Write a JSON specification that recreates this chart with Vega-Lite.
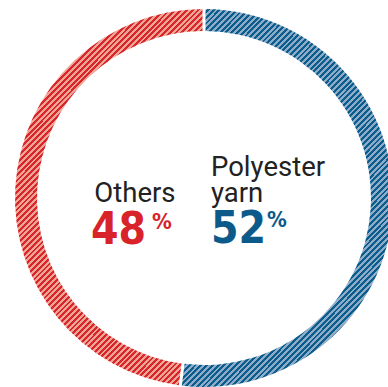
{
"$schema": "https://vega.github.io/schema/vega-lite/v6.json",
"width": 368,
"height": 378,
"autosize": {"type": "none"},
"padding": {"left": 20, "top": 9, "right": 0, "bottom": 0},
"background": "white",
"config": {"view": {"stroke": null}},
"data": {"values": [{"category": "Polyester yarn", "value": 52}, {"category": "Others", "value": 48}]},
"layer": [
{"mark": {"type": "arc", "outerRadius": 189, "innerRadius": 167, "padAngle": 0.012},
"encoding": {
"theta": {"field": "value", "type": "quantitative", "stack": true},
"detail": {"field": "category", "type": "nominal"},
"order": {"field": "category", "type": "nominal", "sort": "descending"},
"fill": {"condition": {"test": "datum.category === 'Others'", "value": {"gradient": "linear", "x1": 0.0872, "y1": 0.1744, "x2": 0.6015, "y2": 1.203, "stops": [
{"offset":0,"color":"#f0a494"},{"offset":0.006,"color":"#f0a494"},{"offset":0.006,"color":"#d9262d"},{"offset":0.012,"color":"#d9262d"},
{"offset":0.012,"color":"#f0a494"},{"offset":0.018,"color":"#f0a494"},{"offset":0.018,"color":"#d9262d"},{"offset":0.024,"color":"#d9262d"},
{"offset":0.024,"color":"#f0a494"},{"offset":0.03,"color":"#f0a494"},{"offset":0.03,"color":"#d9262d"},{"offset":0.036,"color":"#d9262d"},
{"offset":0.036,"color":"#f0a494"},{"offset":0.042,"color":"#f0a494"},{"offset":0.042,"color":"#d9262d"},{"offset":0.048,"color":"#d9262d"},
{"offset":0.048,"color":"#f0a494"},{"offset":0.054,"color":"#f0a494"},{"offset":0.054,"color":"#d9262d"},{"offset":0.06,"color":"#d9262d"},
{"offset":0.06,"color":"#f0a494"},{"offset":0.066,"color":"#f0a494"},{"offset":0.066,"color":"#d9262d"},{"offset":0.072,"color":"#d9262d"},
{"offset":0.072,"color":"#f0a494"},{"offset":0.078,"color":"#f0a494"},{"offset":0.078,"color":"#d9262d"},{"offset":0.084,"color":"#d9262d"},
{"offset":0.084,"color":"#f0a494"},{"offset":0.09,"color":"#f0a494"},{"offset":0.09,"color":"#d9262d"},{"offset":0.096,"color":"#d9262d"},
{"offset":0.096,"color":"#f0a494"},{"offset":0.102,"color":"#f0a494"},{"offset":0.102,"color":"#d9262d"},{"offset":0.108,"color":"#d9262d"},
{"offset":0.108,"color":"#f0a494"},{"offset":0.114,"color":"#f0a494"},{"offset":0.114,"color":"#d9262d"},{"offset":0.12,"color":"#d9262d"},
{"offset":0.12,"color":"#f0a494"},{"offset":0.126,"color":"#f0a494"},{"offset":0.126,"color":"#d9262d"},{"offset":0.132,"color":"#d9262d"},
{"offset":0.132,"color":"#f0a494"},{"offset":0.138,"color":"#f0a494"},{"offset":0.138,"color":"#d9262d"},{"offset":0.144,"color":"#d9262d"},
{"offset":0.144,"color":"#f0a494"},{"offset":0.15,"color":"#f0a494"},{"offset":0.15,"color":"#d9262d"},{"offset":0.156,"color":"#d9262d"},
{"offset":0.156,"color":"#f0a494"},{"offset":0.162,"color":"#f0a494"},{"offset":0.162,"color":"#d9262d"},{"offset":0.168,"color":"#d9262d"},
{"offset":0.168,"color":"#f0a494"},{"offset":0.174,"color":"#f0a494"},{"offset":0.174,"color":"#d9262d"},{"offset":0.18,"color":"#d9262d"},
{"offset":0.18,"color":"#f0a494"},{"offset":0.186,"color":"#f0a494"},{"offset":0.186,"color":"#d9262d"},{"offset":0.192,"color":"#d9262d"},
{"offset":0.192,"color":"#f0a494"},{"offset":0.198,"color":"#f0a494"},{"offset":0.198,"color":"#d9262d"},{"offset":0.204,"color":"#d9262d"},
{"offset":0.204,"color":"#f0a494"},{"offset":0.21,"color":"#f0a494"},{"offset":0.21,"color":"#d9262d"},{"offset":0.216,"color":"#d9262d"},
{"offset":0.216,"color":"#f0a494"},{"offset":0.222,"color":"#f0a494"},{"offset":0.222,"color":"#d9262d"},{"offset":0.228,"color":"#d9262d"},
{"offset":0.228,"color":"#f0a494"},{"offset":0.234,"color":"#f0a494"},{"offset":0.234,"color":"#d9262d"},{"offset":0.24,"color":"#d9262d"},
{"offset":0.24,"color":"#f0a494"},{"offset":0.246,"color":"#f0a494"},{"offset":0.246,"color":"#d9262d"},{"offset":0.252,"color":"#d9262d"},
{"offset":0.252,"color":"#f0a494"},{"offset":0.258,"color":"#f0a494"},{"offset":0.258,"color":"#d9262d"},{"offset":0.264,"color":"#d9262d"},
{"offset":0.264,"color":"#f0a494"},{"offset":0.27,"color":"#f0a494"},{"offset":0.27,"color":"#d9262d"},{"offset":0.276,"color":"#d9262d"},
{"offset":0.276,"color":"#f0a494"},{"offset":0.282,"color":"#f0a494"},{"offset":0.282,"color":"#d9262d"},{"offset":0.288,"color":"#d9262d"},
{"offset":0.288,"color":"#f0a494"},{"offset":0.294,"color":"#f0a494"},{"offset":0.294,"color":"#d9262d"},{"offset":0.3,"color":"#d9262d"},
{"offset":0.3,"color":"#f0a494"},{"offset":0.306,"color":"#f0a494"},{"offset":0.306,"color":"#d9262d"},{"offset":0.312,"color":"#d9262d"},
{"offset":0.312,"color":"#f0a494"},{"offset":0.318,"color":"#f0a494"},{"offset":0.318,"color":"#d9262d"},{"offset":0.324,"color":"#d9262d"},
{"offset":0.324,"color":"#f0a494"},{"offset":0.33,"color":"#f0a494"},{"offset":0.33,"color":"#d9262d"},{"offset":0.336,"color":"#d9262d"},
{"offset":0.336,"color":"#f0a494"},{"offset":0.342,"color":"#f0a494"},{"offset":0.342,"color":"#d9262d"},{"offset":0.348,"color":"#d9262d"},
{"offset":0.348,"color":"#f0a494"},{"offset":0.354,"color":"#f0a494"},{"offset":0.354,"color":"#d9262d"},{"offset":0.36,"color":"#d9262d"},
{"offset":0.36,"color":"#f0a494"},{"offset":0.366,"color":"#f0a494"},{"offset":0.366,"color":"#d9262d"},{"offset":0.372,"color":"#d9262d"},
{"offset":0.372,"color":"#f0a494"},{"offset":0.378,"color":"#f0a494"},{"offset":0.378,"color":"#d9262d"},{"offset":0.384,"color":"#d9262d"},
{"offset":0.384,"color":"#f0a494"},{"offset":0.39,"color":"#f0a494"},{"offset":0.39,"color":"#d9262d"},{"offset":0.396,"color":"#d9262d"},
{"offset":0.396,"color":"#f0a494"},{"offset":0.402,"color":"#f0a494"},{"offset":0.402,"color":"#d9262d"},{"offset":0.408,"color":"#d9262d"},
{"offset":0.408,"color":"#f0a494"},{"offset":0.414,"color":"#f0a494"},{"offset":0.414,"color":"#d9262d"},{"offset":0.42,"color":"#d9262d"},
{"offset":0.42,"color":"#f0a494"},{"offset":0.426,"color":"#f0a494"},{"offset":0.426,"color":"#d9262d"},{"offset":0.432,"color":"#d9262d"},
{"offset":0.432,"color":"#f0a494"},{"offset":0.438,"color":"#f0a494"},{"offset":0.438,"color":"#d9262d"},{"offset":0.444,"color":"#d9262d"},
{"offset":0.444,"color":"#f0a494"},{"offset":0.45,"color":"#f0a494"},{"offset":0.45,"color":"#d9262d"},{"offset":0.456,"color":"#d9262d"},
{"offset":0.456,"color":"#f0a494"},{"offset":0.462,"color":"#f0a494"},{"offset":0.462,"color":"#d9262d"},{"offset":0.468,"color":"#d9262d"},
{"offset":0.468,"color":"#f0a494"},{"offset":0.474,"color":"#f0a494"},{"offset":0.474,"color":"#d9262d"},{"offset":0.48,"color":"#d9262d"},
{"offset":0.48,"color":"#f0a494"},{"offset":0.486,"color":"#f0a494"},{"offset":0.486,"color":"#d9262d"},{"offset":0.492,"color":"#d9262d"},
{"offset":0.492,"color":"#f0a494"},{"offset":0.498,"color":"#f0a494"},{"offset":0.498,"color":"#d9262d"},{"offset":0.504,"color":"#d9262d"},
{"offset":0.504,"color":"#f0a494"},{"offset":0.51,"color":"#f0a494"},{"offset":0.51,"color":"#d9262d"},{"offset":0.516,"color":"#d9262d"},
{"offset":0.516,"color":"#f0a494"},{"offset":0.522,"color":"#f0a494"},{"offset":0.522,"color":"#d9262d"},{"offset":0.528,"color":"#d9262d"},
{"offset":0.528,"color":"#f0a494"},{"offset":0.534,"color":"#f0a494"},{"offset":0.534,"color":"#d9262d"},{"offset":0.54,"color":"#d9262d"},
{"offset":0.54,"color":"#f0a494"},{"offset":0.546,"color":"#f0a494"},{"offset":0.546,"color":"#d9262d"},{"offset":0.552,"color":"#d9262d"},
{"offset":0.552,"color":"#f0a494"},{"offset":0.558,"color":"#f0a494"},{"offset":0.558,"color":"#d9262d"},{"offset":0.564,"color":"#d9262d"},
{"offset":0.564,"color":"#f0a494"},{"offset":0.57,"color":"#f0a494"},{"offset":0.57,"color":"#d9262d"},{"offset":0.576,"color":"#d9262d"},
{"offset":0.576,"color":"#f0a494"},{"offset":0.582,"color":"#f0a494"},{"offset":0.582,"color":"#d9262d"},{"offset":0.588,"color":"#d9262d"},
{"offset":0.588,"color":"#f0a494"},{"offset":0.594,"color":"#f0a494"},{"offset":0.594,"color":"#d9262d"},{"offset":0.6,"color":"#d9262d"},
{"offset":0.6,"color":"#f0a494"},{"offset":0.606,"color":"#f0a494"},{"offset":0.606,"color":"#d9262d"},{"offset":0.612,"color":"#d9262d"},
{"offset":0.612,"color":"#f0a494"},{"offset":0.618,"color":"#f0a494"},{"offset":0.618,"color":"#d9262d"},{"offset":0.624,"color":"#d9262d"},
{"offset":0.624,"color":"#f0a494"},{"offset":0.63,"color":"#f0a494"},{"offset":0.63,"color":"#d9262d"},{"offset":0.636,"color":"#d9262d"},
{"offset":0.636,"color":"#f0a494"},{"offset":0.642,"color":"#f0a494"},{"offset":0.642,"color":"#d9262d"},{"offset":0.648,"color":"#d9262d"},
{"offset":0.648,"color":"#f0a494"},{"offset":0.654,"color":"#f0a494"},{"offset":0.654,"color":"#d9262d"},{"offset":0.66,"color":"#d9262d"},
{"offset":0.66,"color":"#f0a494"},{"offset":0.666,"color":"#f0a494"},{"offset":0.666,"color":"#d9262d"},{"offset":0.672,"color":"#d9262d"},
{"offset":0.672,"color":"#f0a494"},{"offset":0.678,"color":"#f0a494"},{"offset":0.678,"color":"#d9262d"},{"offset":0.684,"color":"#d9262d"},
{"offset":0.684,"color":"#f0a494"},{"offset":0.69,"color":"#f0a494"},{"offset":0.69,"color":"#d9262d"},{"offset":0.696,"color":"#d9262d"},
{"offset":0.696,"color":"#f0a494"},{"offset":0.702,"color":"#f0a494"},{"offset":0.702,"color":"#d9262d"},{"offset":0.708,"color":"#d9262d"},
{"offset":0.708,"color":"#f0a494"},{"offset":0.714,"color":"#f0a494"},{"offset":0.714,"color":"#d9262d"},{"offset":0.72,"color":"#d9262d"},
{"offset":0.72,"color":"#f0a494"},{"offset":0.726,"color":"#f0a494"},{"offset":0.726,"color":"#d9262d"},{"offset":0.732,"color":"#d9262d"},
{"offset":0.732,"color":"#f0a494"},{"offset":0.738,"color":"#f0a494"},{"offset":0.738,"color":"#d9262d"},{"offset":0.744,"color":"#d9262d"},
{"offset":0.744,"color":"#f0a494"},{"offset":0.75,"color":"#f0a494"},{"offset":0.75,"color":"#d9262d"},{"offset":0.756,"color":"#d9262d"},
{"offset":0.756,"color":"#f0a494"},{"offset":0.762,"color":"#f0a494"},{"offset":0.762,"color":"#d9262d"},{"offset":0.768,"color":"#d9262d"},
{"offset":0.768,"color":"#f0a494"},{"offset":0.774,"color":"#f0a494"},{"offset":0.774,"color":"#d9262d"},{"offset":0.78,"color":"#d9262d"},
{"offset":0.78,"color":"#f0a494"},{"offset":0.786,"color":"#f0a494"},{"offset":0.786,"color":"#d9262d"},{"offset":0.792,"color":"#d9262d"},
{"offset":0.792,"color":"#f0a494"},{"offset":0.798,"color":"#f0a494"},{"offset":0.798,"color":"#d9262d"},{"offset":0.804,"color":"#d9262d"},
{"offset":0.804,"color":"#f0a494"},{"offset":0.81,"color":"#f0a494"},{"offset":0.81,"color":"#d9262d"},{"offset":0.816,"color":"#d9262d"},
{"offset":0.816,"color":"#f0a494"},{"offset":0.822,"color":"#f0a494"},{"offset":0.822,"color":"#d9262d"},{"offset":0.828,"color":"#d9262d"},
{"offset":0.828,"color":"#f0a494"},{"offset":0.834,"color":"#f0a494"},{"offset":0.834,"color":"#d9262d"},{"offset":0.84,"color":"#d9262d"},
{"offset":0.84,"color":"#f0a494"},{"offset":0.846,"color":"#f0a494"},{"offset":0.846,"color":"#d9262d"},{"offset":0.852,"color":"#d9262d"},
{"offset":0.852,"color":"#f0a494"},{"offset":0.858,"color":"#f0a494"},{"offset":0.858,"color":"#d9262d"},{"offset":0.864,"color":"#d9262d"},
{"offset":0.864,"color":"#f0a494"},{"offset":0.87,"color":"#f0a494"},{"offset":0.87,"color":"#d9262d"},{"offset":0.876,"color":"#d9262d"},
{"offset":0.876,"color":"#f0a494"},{"offset":0.882,"color":"#f0a494"},{"offset":0.882,"color":"#d9262d"},{"offset":0.888,"color":"#d9262d"},
{"offset":0.888,"color":"#f0a494"},{"offset":0.894,"color":"#f0a494"},{"offset":0.894,"color":"#d9262d"},{"offset":0.9,"color":"#d9262d"},
{"offset":0.9,"color":"#f0a494"},{"offset":0.906,"color":"#f0a494"},{"offset":0.906,"color":"#d9262d"},{"offset":0.912,"color":"#d9262d"},
{"offset":0.912,"color":"#f0a494"},{"offset":0.918,"color":"#f0a494"},{"offset":0.918,"color":"#d9262d"},{"offset":0.924,"color":"#d9262d"},
{"offset":0.924,"color":"#f0a494"},{"offset":0.93,"color":"#f0a494"},{"offset":0.93,"color":"#d9262d"},{"offset":0.936,"color":"#d9262d"},
{"offset":0.936,"color":"#f0a494"},{"offset":0.942,"color":"#f0a494"},{"offset":0.942,"color":"#d9262d"},{"offset":0.948,"color":"#d9262d"},
{"offset":0.948,"color":"#f0a494"},{"offset":0.954,"color":"#f0a494"},{"offset":0.954,"color":"#d9262d"},{"offset":0.96,"color":"#d9262d"},
{"offset":0.96,"color":"#f0a494"},{"offset":0.966,"color":"#f0a494"},{"offset":0.966,"color":"#d9262d"},{"offset":0.972,"color":"#d9262d"},
{"offset":0.972,"color":"#f0a494"},{"offset":0.978,"color":"#f0a494"},{"offset":0.978,"color":"#d9262d"},{"offset":0.984,"color":"#d9262d"},
{"offset":0.984,"color":"#f0a494"},{"offset":0.99,"color":"#f0a494"},{"offset":0.99,"color":"#d9262d"},{"offset":0.996,"color":"#d9262d"}
]}},
"value": {"gradient": "linear", "x1": 0.0128, "y1": 0.0227, "x2": 0.56, "y2": 0.9946, "stops": [
{"offset":0,"color":"#8eabc8"},{"offset":0.006,"color":"#8eabc8"},{"offset":0.006,"color":"#0a5d8c"},{"offset":0.012,"color":"#0a5d8c"},
{"offset":0.012,"color":"#8eabc8"},{"offset":0.018,"color":"#8eabc8"},{"offset":0.018,"color":"#0a5d8c"},{"offset":0.024,"color":"#0a5d8c"},
{"offset":0.024,"color":"#8eabc8"},{"offset":0.03,"color":"#8eabc8"},{"offset":0.03,"color":"#0a5d8c"},{"offset":0.036,"color":"#0a5d8c"},
{"offset":0.036,"color":"#8eabc8"},{"offset":0.042,"color":"#8eabc8"},{"offset":0.042,"color":"#0a5d8c"},{"offset":0.048,"color":"#0a5d8c"},
{"offset":0.048,"color":"#8eabc8"},{"offset":0.054,"color":"#8eabc8"},{"offset":0.054,"color":"#0a5d8c"},{"offset":0.06,"color":"#0a5d8c"},
{"offset":0.06,"color":"#8eabc8"},{"offset":0.066,"color":"#8eabc8"},{"offset":0.066,"color":"#0a5d8c"},{"offset":0.072,"color":"#0a5d8c"},
{"offset":0.072,"color":"#8eabc8"},{"offset":0.078,"color":"#8eabc8"},{"offset":0.078,"color":"#0a5d8c"},{"offset":0.084,"color":"#0a5d8c"},
{"offset":0.084,"color":"#8eabc8"},{"offset":0.09,"color":"#8eabc8"},{"offset":0.09,"color":"#0a5d8c"},{"offset":0.096,"color":"#0a5d8c"},
{"offset":0.096,"color":"#8eabc8"},{"offset":0.102,"color":"#8eabc8"},{"offset":0.102,"color":"#0a5d8c"},{"offset":0.108,"color":"#0a5d8c"},
{"offset":0.108,"color":"#8eabc8"},{"offset":0.114,"color":"#8eabc8"},{"offset":0.114,"color":"#0a5d8c"},{"offset":0.12,"color":"#0a5d8c"},
{"offset":0.12,"color":"#8eabc8"},{"offset":0.126,"color":"#8eabc8"},{"offset":0.126,"color":"#0a5d8c"},{"offset":0.132,"color":"#0a5d8c"},
{"offset":0.132,"color":"#8eabc8"},{"offset":0.138,"color":"#8eabc8"},{"offset":0.138,"color":"#0a5d8c"},{"offset":0.144,"color":"#0a5d8c"},
{"offset":0.144,"color":"#8eabc8"},{"offset":0.15,"color":"#8eabc8"},{"offset":0.15,"color":"#0a5d8c"},{"offset":0.156,"color":"#0a5d8c"},
{"offset":0.156,"color":"#8eabc8"},{"offset":0.162,"color":"#8eabc8"},{"offset":0.162,"color":"#0a5d8c"},{"offset":0.168,"color":"#0a5d8c"},
{"offset":0.168,"color":"#8eabc8"},{"offset":0.174,"color":"#8eabc8"},{"offset":0.174,"color":"#0a5d8c"},{"offset":0.18,"color":"#0a5d8c"},
{"offset":0.18,"color":"#8eabc8"},{"offset":0.186,"color":"#8eabc8"},{"offset":0.186,"color":"#0a5d8c"},{"offset":0.192,"color":"#0a5d8c"},
{"offset":0.192,"color":"#8eabc8"},{"offset":0.198,"color":"#8eabc8"},{"offset":0.198,"color":"#0a5d8c"},{"offset":0.204,"color":"#0a5d8c"},
{"offset":0.204,"color":"#8eabc8"},{"offset":0.21,"color":"#8eabc8"},{"offset":0.21,"color":"#0a5d8c"},{"offset":0.216,"color":"#0a5d8c"},
{"offset":0.216,"color":"#8eabc8"},{"offset":0.222,"color":"#8eabc8"},{"offset":0.222,"color":"#0a5d8c"},{"offset":0.228,"color":"#0a5d8c"},
{"offset":0.228,"color":"#8eabc8"},{"offset":0.234,"color":"#8eabc8"},{"offset":0.234,"color":"#0a5d8c"},{"offset":0.24,"color":"#0a5d8c"},
{"offset":0.24,"color":"#8eabc8"},{"offset":0.246,"color":"#8eabc8"},{"offset":0.246,"color":"#0a5d8c"},{"offset":0.252,"color":"#0a5d8c"},
{"offset":0.252,"color":"#8eabc8"},{"offset":0.258,"color":"#8eabc8"},{"offset":0.258,"color":"#0a5d8c"},{"offset":0.264,"color":"#0a5d8c"},
{"offset":0.264,"color":"#8eabc8"},{"offset":0.27,"color":"#8eabc8"},{"offset":0.27,"color":"#0a5d8c"},{"offset":0.276,"color":"#0a5d8c"},
{"offset":0.276,"color":"#8eabc8"},{"offset":0.282,"color":"#8eabc8"},{"offset":0.282,"color":"#0a5d8c"},{"offset":0.288,"color":"#0a5d8c"},
{"offset":0.288,"color":"#8eabc8"},{"offset":0.294,"color":"#8eabc8"},{"offset":0.294,"color":"#0a5d8c"},{"offset":0.3,"color":"#0a5d8c"},
{"offset":0.3,"color":"#8eabc8"},{"offset":0.306,"color":"#8eabc8"},{"offset":0.306,"color":"#0a5d8c"},{"offset":0.312,"color":"#0a5d8c"},
{"offset":0.312,"color":"#8eabc8"},{"offset":0.318,"color":"#8eabc8"},{"offset":0.318,"color":"#0a5d8c"},{"offset":0.324,"color":"#0a5d8c"},
{"offset":0.324,"color":"#8eabc8"},{"offset":0.33,"color":"#8eabc8"},{"offset":0.33,"color":"#0a5d8c"},{"offset":0.336,"color":"#0a5d8c"},
{"offset":0.336,"color":"#8eabc8"},{"offset":0.342,"color":"#8eabc8"},{"offset":0.342,"color":"#0a5d8c"},{"offset":0.348,"color":"#0a5d8c"},
{"offset":0.348,"color":"#8eabc8"},{"offset":0.354,"color":"#8eabc8"},{"offset":0.354,"color":"#0a5d8c"},{"offset":0.36,"color":"#0a5d8c"},
{"offset":0.36,"color":"#8eabc8"},{"offset":0.366,"color":"#8eabc8"},{"offset":0.366,"color":"#0a5d8c"},{"offset":0.372,"color":"#0a5d8c"},
{"offset":0.372,"color":"#8eabc8"},{"offset":0.378,"color":"#8eabc8"},{"offset":0.378,"color":"#0a5d8c"},{"offset":0.384,"color":"#0a5d8c"},
{"offset":0.384,"color":"#8eabc8"},{"offset":0.39,"color":"#8eabc8"},{"offset":0.39,"color":"#0a5d8c"},{"offset":0.396,"color":"#0a5d8c"},
{"offset":0.396,"color":"#8eabc8"},{"offset":0.402,"color":"#8eabc8"},{"offset":0.402,"color":"#0a5d8c"},{"offset":0.408,"color":"#0a5d8c"},
{"offset":0.408,"color":"#8eabc8"},{"offset":0.414,"color":"#8eabc8"},{"offset":0.414,"color":"#0a5d8c"},{"offset":0.42,"color":"#0a5d8c"},
{"offset":0.42,"color":"#8eabc8"},{"offset":0.426,"color":"#8eabc8"},{"offset":0.426,"color":"#0a5d8c"},{"offset":0.432,"color":"#0a5d8c"},
{"offset":0.432,"color":"#8eabc8"},{"offset":0.438,"color":"#8eabc8"},{"offset":0.438,"color":"#0a5d8c"},{"offset":0.444,"color":"#0a5d8c"},
{"offset":0.444,"color":"#8eabc8"},{"offset":0.45,"color":"#8eabc8"},{"offset":0.45,"color":"#0a5d8c"},{"offset":0.456,"color":"#0a5d8c"},
{"offset":0.456,"color":"#8eabc8"},{"offset":0.462,"color":"#8eabc8"},{"offset":0.462,"color":"#0a5d8c"},{"offset":0.468,"color":"#0a5d8c"},
{"offset":0.468,"color":"#8eabc8"},{"offset":0.474,"color":"#8eabc8"},{"offset":0.474,"color":"#0a5d8c"},{"offset":0.48,"color":"#0a5d8c"},
{"offset":0.48,"color":"#8eabc8"},{"offset":0.486,"color":"#8eabc8"},{"offset":0.486,"color":"#0a5d8c"},{"offset":0.492,"color":"#0a5d8c"},
{"offset":0.492,"color":"#8eabc8"},{"offset":0.498,"color":"#8eabc8"},{"offset":0.498,"color":"#0a5d8c"},{"offset":0.504,"color":"#0a5d8c"},
{"offset":0.504,"color":"#8eabc8"},{"offset":0.51,"color":"#8eabc8"},{"offset":0.51,"color":"#0a5d8c"},{"offset":0.516,"color":"#0a5d8c"},
{"offset":0.516,"color":"#8eabc8"},{"offset":0.522,"color":"#8eabc8"},{"offset":0.522,"color":"#0a5d8c"},{"offset":0.528,"color":"#0a5d8c"},
{"offset":0.528,"color":"#8eabc8"},{"offset":0.534,"color":"#8eabc8"},{"offset":0.534,"color":"#0a5d8c"},{"offset":0.54,"color":"#0a5d8c"},
{"offset":0.54,"color":"#8eabc8"},{"offset":0.546,"color":"#8eabc8"},{"offset":0.546,"color":"#0a5d8c"},{"offset":0.552,"color":"#0a5d8c"},
{"offset":0.552,"color":"#8eabc8"},{"offset":0.558,"color":"#8eabc8"},{"offset":0.558,"color":"#0a5d8c"},{"offset":0.564,"color":"#0a5d8c"},
{"offset":0.564,"color":"#8eabc8"},{"offset":0.57,"color":"#8eabc8"},{"offset":0.57,"color":"#0a5d8c"},{"offset":0.576,"color":"#0a5d8c"},
{"offset":0.576,"color":"#8eabc8"},{"offset":0.582,"color":"#8eabc8"},{"offset":0.582,"color":"#0a5d8c"},{"offset":0.588,"color":"#0a5d8c"},
{"offset":0.588,"color":"#8eabc8"},{"offset":0.594,"color":"#8eabc8"},{"offset":0.594,"color":"#0a5d8c"},{"offset":0.6,"color":"#0a5d8c"},
{"offset":0.6,"color":"#8eabc8"},{"offset":0.606,"color":"#8eabc8"},{"offset":0.606,"color":"#0a5d8c"},{"offset":0.612,"color":"#0a5d8c"},
{"offset":0.612,"color":"#8eabc8"},{"offset":0.618,"color":"#8eabc8"},{"offset":0.618,"color":"#0a5d8c"},{"offset":0.624,"color":"#0a5d8c"},
{"offset":0.624,"color":"#8eabc8"},{"offset":0.63,"color":"#8eabc8"},{"offset":0.63,"color":"#0a5d8c"},{"offset":0.636,"color":"#0a5d8c"},
{"offset":0.636,"color":"#8eabc8"},{"offset":0.642,"color":"#8eabc8"},{"offset":0.642,"color":"#0a5d8c"},{"offset":0.648,"color":"#0a5d8c"},
{"offset":0.648,"color":"#8eabc8"},{"offset":0.654,"color":"#8eabc8"},{"offset":0.654,"color":"#0a5d8c"},{"offset":0.66,"color":"#0a5d8c"},
{"offset":0.66,"color":"#8eabc8"},{"offset":0.666,"color":"#8eabc8"},{"offset":0.666,"color":"#0a5d8c"},{"offset":0.672,"color":"#0a5d8c"},
{"offset":0.672,"color":"#8eabc8"},{"offset":0.678,"color":"#8eabc8"},{"offset":0.678,"color":"#0a5d8c"},{"offset":0.684,"color":"#0a5d8c"},
{"offset":0.684,"color":"#8eabc8"},{"offset":0.69,"color":"#8eabc8"},{"offset":0.69,"color":"#0a5d8c"},{"offset":0.696,"color":"#0a5d8c"},
{"offset":0.696,"color":"#8eabc8"},{"offset":0.702,"color":"#8eabc8"},{"offset":0.702,"color":"#0a5d8c"},{"offset":0.708,"color":"#0a5d8c"},
{"offset":0.708,"color":"#8eabc8"},{"offset":0.714,"color":"#8eabc8"},{"offset":0.714,"color":"#0a5d8c"},{"offset":0.72,"color":"#0a5d8c"},
{"offset":0.72,"color":"#8eabc8"},{"offset":0.726,"color":"#8eabc8"},{"offset":0.726,"color":"#0a5d8c"},{"offset":0.732,"color":"#0a5d8c"},
{"offset":0.732,"color":"#8eabc8"},{"offset":0.738,"color":"#8eabc8"},{"offset":0.738,"color":"#0a5d8c"},{"offset":0.744,"color":"#0a5d8c"},
{"offset":0.744,"color":"#8eabc8"},{"offset":0.75,"color":"#8eabc8"},{"offset":0.75,"color":"#0a5d8c"},{"offset":0.756,"color":"#0a5d8c"},
{"offset":0.756,"color":"#8eabc8"},{"offset":0.762,"color":"#8eabc8"},{"offset":0.762,"color":"#0a5d8c"},{"offset":0.768,"color":"#0a5d8c"},
{"offset":0.768,"color":"#8eabc8"},{"offset":0.774,"color":"#8eabc8"},{"offset":0.774,"color":"#0a5d8c"},{"offset":0.78,"color":"#0a5d8c"},
{"offset":0.78,"color":"#8eabc8"},{"offset":0.786,"color":"#8eabc8"},{"offset":0.786,"color":"#0a5d8c"},{"offset":0.792,"color":"#0a5d8c"},
{"offset":0.792,"color":"#8eabc8"},{"offset":0.798,"color":"#8eabc8"},{"offset":0.798,"color":"#0a5d8c"},{"offset":0.804,"color":"#0a5d8c"},
{"offset":0.804,"color":"#8eabc8"},{"offset":0.81,"color":"#8eabc8"},{"offset":0.81,"color":"#0a5d8c"},{"offset":0.816,"color":"#0a5d8c"},
{"offset":0.816,"color":"#8eabc8"},{"offset":0.822,"color":"#8eabc8"},{"offset":0.822,"color":"#0a5d8c"},{"offset":0.828,"color":"#0a5d8c"},
{"offset":0.828,"color":"#8eabc8"},{"offset":0.834,"color":"#8eabc8"},{"offset":0.834,"color":"#0a5d8c"},{"offset":0.84,"color":"#0a5d8c"},
{"offset":0.84,"color":"#8eabc8"},{"offset":0.846,"color":"#8eabc8"},{"offset":0.846,"color":"#0a5d8c"},{"offset":0.852,"color":"#0a5d8c"},
{"offset":0.852,"color":"#8eabc8"},{"offset":0.858,"color":"#8eabc8"},{"offset":0.858,"color":"#0a5d8c"},{"offset":0.864,"color":"#0a5d8c"},
{"offset":0.864,"color":"#8eabc8"},{"offset":0.87,"color":"#8eabc8"},{"offset":0.87,"color":"#0a5d8c"},{"offset":0.876,"color":"#0a5d8c"},
{"offset":0.876,"color":"#8eabc8"},{"offset":0.882,"color":"#8eabc8"},{"offset":0.882,"color":"#0a5d8c"},{"offset":0.888,"color":"#0a5d8c"},
{"offset":0.888,"color":"#8eabc8"},{"offset":0.894,"color":"#8eabc8"},{"offset":0.894,"color":"#0a5d8c"},{"offset":0.9,"color":"#0a5d8c"},
{"offset":0.9,"color":"#8eabc8"},{"offset":0.906,"color":"#8eabc8"},{"offset":0.906,"color":"#0a5d8c"},{"offset":0.912,"color":"#0a5d8c"},
{"offset":0.912,"color":"#8eabc8"},{"offset":0.918,"color":"#8eabc8"},{"offset":0.918,"color":"#0a5d8c"},{"offset":0.924,"color":"#0a5d8c"},
{"offset":0.924,"color":"#8eabc8"},{"offset":0.93,"color":"#8eabc8"},{"offset":0.93,"color":"#0a5d8c"},{"offset":0.936,"color":"#0a5d8c"},
{"offset":0.936,"color":"#8eabc8"},{"offset":0.942,"color":"#8eabc8"},{"offset":0.942,"color":"#0a5d8c"},{"offset":0.948,"color":"#0a5d8c"},
{"offset":0.948,"color":"#8eabc8"},{"offset":0.954,"color":"#8eabc8"},{"offset":0.954,"color":"#0a5d8c"},{"offset":0.96,"color":"#0a5d8c"},
{"offset":0.96,"color":"#8eabc8"},{"offset":0.966,"color":"#8eabc8"},{"offset":0.966,"color":"#0a5d8c"},{"offset":0.972,"color":"#0a5d8c"},
{"offset":0.972,"color":"#8eabc8"},{"offset":0.978,"color":"#8eabc8"},{"offset":0.978,"color":"#0a5d8c"},{"offset":0.984,"color":"#0a5d8c"},
{"offset":0.984,"color":"#8eabc8"},{"offset":0.99,"color":"#8eabc8"},{"offset":0.99,"color":"#0a5d8c"},{"offset":0.996,"color":"#0a5d8c"}
]}}
}},
{"transform": [{"filter": "datum.category === 'Others'"}],
"mark": {"type": "text", "align": "right", "baseline": "alphabetic", "dx": -28.5, "dy": 4, "font": "Roboto", "fontSize": 27.5, "color": "#222222"},
"encoding": {"text": {"field": "category", "type": "nominal"}}},
{"transform": [{"filter": "datum.category === 'Others'"}],
"mark": {"type": "text", "align": "right", "baseline": "alphabetic", "dx": -58, "dy": 46, "font": "DejaVu Sans Condensed, DejaVu Sans", "fontSize": 44, "fontWeight": "bold", "color": "#d8232a"},
"encoding": {"text": {"field": "value", "type": "quantitative"}}},
{"transform": [{"filter": "datum.category === 'Others'"}],
"mark": {"type": "text", "align": "left", "baseline": "alphabetic", "dx": -52, "dy": 31, "font": "DejaVu Sans Condensed, DejaVu Sans", "fontSize": 22, "fontWeight": "bold", "color": "#d8232a"},
"encoding": {"text": {"value": "%"}}},
{"transform": [{"filter": "datum.category === 'Polyester yarn'"}],
"mark": {"type": "text", "align": "left", "baseline": "alphabetic", "dx": 7, "dy": -22, "lineBreak": " ", "lineHeight": 26, "font": "Roboto", "fontSize": 27.5, "color": "#222222"},
"encoding": {"text": {"field": "category", "type": "nominal"}}},
{"transform": [{"filter": "datum.category === 'Polyester yarn'"}],
"mark": {"type": "text", "align": "left", "baseline": "alphabetic", "dx": 7, "dy": 45, "font": "DejaVu Sans Condensed, DejaVu Sans", "fontSize": 44, "fontWeight": "bold", "color": "#0b5a8a"},
"encoding": {"text": {"field": "value", "type": "quantitative"}}},
{"transform": [{"filter": "datum.category === 'Polyester yarn'"}],
"mark": {"type": "text", "align": "left", "baseline": "alphabetic", "dx": 63, "dy": 29, "font": "DejaVu Sans Condensed, DejaVu Sans", "fontSize": 22, "fontWeight": "bold", "color": "#0b5a8a"},
"encoding": {"text": {"value": "%"}}}
]
}
